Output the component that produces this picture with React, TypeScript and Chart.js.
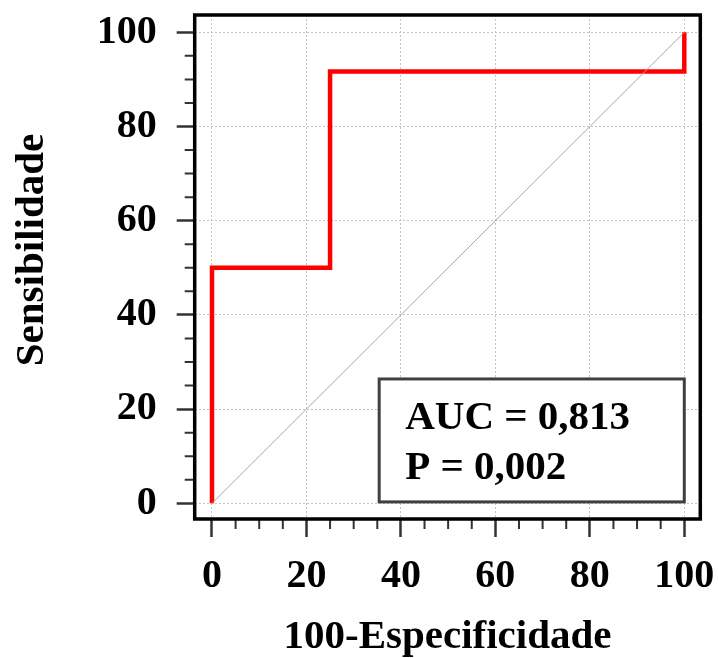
import React, { useEffect, useRef } from 'react';
import { Chart, registerables } from 'chart.js';

Chart.register(...registerables);

// ROC curve points (100-Especificidade, Sensibilidade)
const fprValues = [0, 0, 25, 100];
const sensValues = [0, 50, 91.67, 100];
// Reference diagonal
const diagX = [0, 100];
const diagY = [0, 100];
const majorTicks = [0, 20, 40, 60, 80, 100];
const minorTicks = [5, 10, 15, 25, 30, 35, 45, 50, 55, 65, 70, 75, 85, 90, 95];
const xTitle = '100-Especificidade';
const yTitle = 'Sensibilidade';
const annotationLines = ['AUC = 0,813', 'P = 0,002'];

const FONT = '"Liberation Serif", "Times New Roman", serif';

const framePlugin = {
  id: 'framePlugin',
  beforeDatasetsDraw(chart: any) {
    const { ctx, scales } = chart;
    const xs = scales.x;
    const ys = scales.y;
    const l = xs.getPixelForValue(35.4);
    const r = xs.getPixelForValue(100);
    const t = ys.getPixelForValue(26.4);
    const b = ys.getPixelForValue(0.3);
    ctx.save();
    ctx.fillStyle = '#ffffff';
    ctx.fillRect(l, t, r - l, b - t);
    ctx.strokeStyle = '#404040';
    ctx.lineWidth = 3;
    ctx.strokeRect(l, t, r - l, b - t);
    ctx.fillStyle = '#000000';
    ctx.font = `bold 41px ${FONT}`;
    ctx.textBaseline = 'alphabetic';
    ctx.textAlign = 'left';
    ctx.fillText(annotationLines[0], l + 26, t + 50);
    ctx.fillText(annotationLines[1], l + 26, t + 100);
    ctx.restore();
  },
  afterDraw(chart: any) {
    const { ctx, chartArea, scales } = chart;
    const xs = scales.x;
    const ys = scales.y;
    ctx.save();
    ctx.strokeStyle = '#333333';
    ctx.lineWidth = 2;
    ctx.beginPath();
    for (const v of minorTicks) {
      const px = xs.getPixelForValue(v);
      ctx.moveTo(px, chartArea.bottom);
      ctx.lineTo(px, chartArea.bottom + 10);
      const py = ys.getPixelForValue(v);
      ctx.moveTo(chartArea.left, py);
      ctx.lineTo(chartArea.left - 10, py);
    }
    ctx.stroke();
    ctx.strokeStyle = '#000000';
    ctx.lineWidth = 3.5;
    ctx.strokeRect(
      chartArea.left,
      chartArea.top,
      chartArea.right - chartArea.left,
      chartArea.bottom - chartArea.top
    );
    // y-axis title
    ctx.translate(32, 250);
    ctx.rotate(-Math.PI / 2);
    ctx.fillStyle = '#000000';
    ctx.font = `bold 41px ${FONT}`;
    ctx.textAlign = 'center';
    ctx.textBaseline = 'middle';
    ctx.fillText(yTitle, 0, 0);
    ctx.restore();
  },
};

export default function App() {
  const canvasRef = useRef<HTMLCanvasElement | null>(null);

  useEffect(() => {
    if (!canvasRef.current) return;
    const rocData = fprValues.map((x, i) => ({ x, y: sensValues[i] }));
    const diagData = diagX.map((x, i) => ({ x, y: diagY[i] }));

    const setTicks = (scale: any) => {
      scale.ticks = majorTicks.map((v) => ({ value: v }));
    };
    const zeroPad = (scale: any) => {
      scale.paddingTop = 0;
      scale.paddingBottom = 0;
      scale.paddingLeft = 0;
      scale.paddingRight = 0;
    };

    const chart = new Chart(canvasRef.current, {
      type: 'line',
      data: {
        datasets: [
          {
            data: diagData,
            borderColor: '#a8a8a8',
            borderWidth: 1,
            pointRadius: 0,
            fill: false,
          },
          {
            data: rocData,
            borderColor: '#ff0000',
            borderWidth: 4.5,
            pointRadius: 0,
            stepped: 'before',
            fill: false,
            borderJoinStyle: 'miter',
          },
        ],
      },
      plugins: [framePlugin],
      options: {
        responsive: false,
        animation: false,
        layout: { padding: { left: 0, top: 15, right: 17.7, bottom: 0 } },
        plugins: {
          legend: { display: false },
          tooltip: { enabled: false },
        },
        scales: {
          x: {
            type: 'linear',
            min: -3.66,
            max: 103.39,
            afterBuildTicks: setTicks,
            afterFit: (scale: any) => {
              scale.height = 139;
              zeroPad(scale);
            },
            grid: {
              color: '#c4c4c4',
              lineWidth: 1,
              drawTicks: true,
              tickLength: 18,
              tickColor: '#333333',
              tickWidth: 2.5,
              tickBorderDash: [],
            },
            border: { display: false, dash: [2, 2] },
            ticks: {
              color: '#000000',
              padding: 16,
              maxRotation: 0,
              font: { family: FONT, size: 40, weight: 'bold' },
            },
            title: {
              display: true,
              text: xTitle,
              color: '#000000',
              padding: { top: 0, bottom: 0 },
              font: { family: FONT, size: 41, weight: 'bold', lineHeight: 1 },
            },
          },
          y: {
            type: 'linear',
            min: -3.33,
            max: 103.67,
            afterBuildTicks: setTicks,
            afterFit: (scale: any) => {
              scale.width = 194.7;
              zeroPad(scale);
            },
            grid: {
              color: '#c4c4c4',
              lineWidth: 1,
              drawTicks: true,
              tickLength: 18,
              tickColor: '#333333',
              tickWidth: 2.5,
              tickBorderDash: [],
            },
            border: { display: false, dash: [2, 2] },
            ticks: {
              color: '#000000',
              padding: 20,
              font: { family: FONT, size: 40, weight: 'bold' },
            },
            title: { display: false },
          },
        },
      },
    } as any);

    return () => chart.destroy();
  }, []);

  return (
    <div style={{ position: 'absolute', left: 0, top: 0, width: 718, height: 658, background: '#ffffff' }}>
      <canvas ref={canvasRef} width={718} height={658} style={{ display: 'block' }} />
    </div>
  );
}
